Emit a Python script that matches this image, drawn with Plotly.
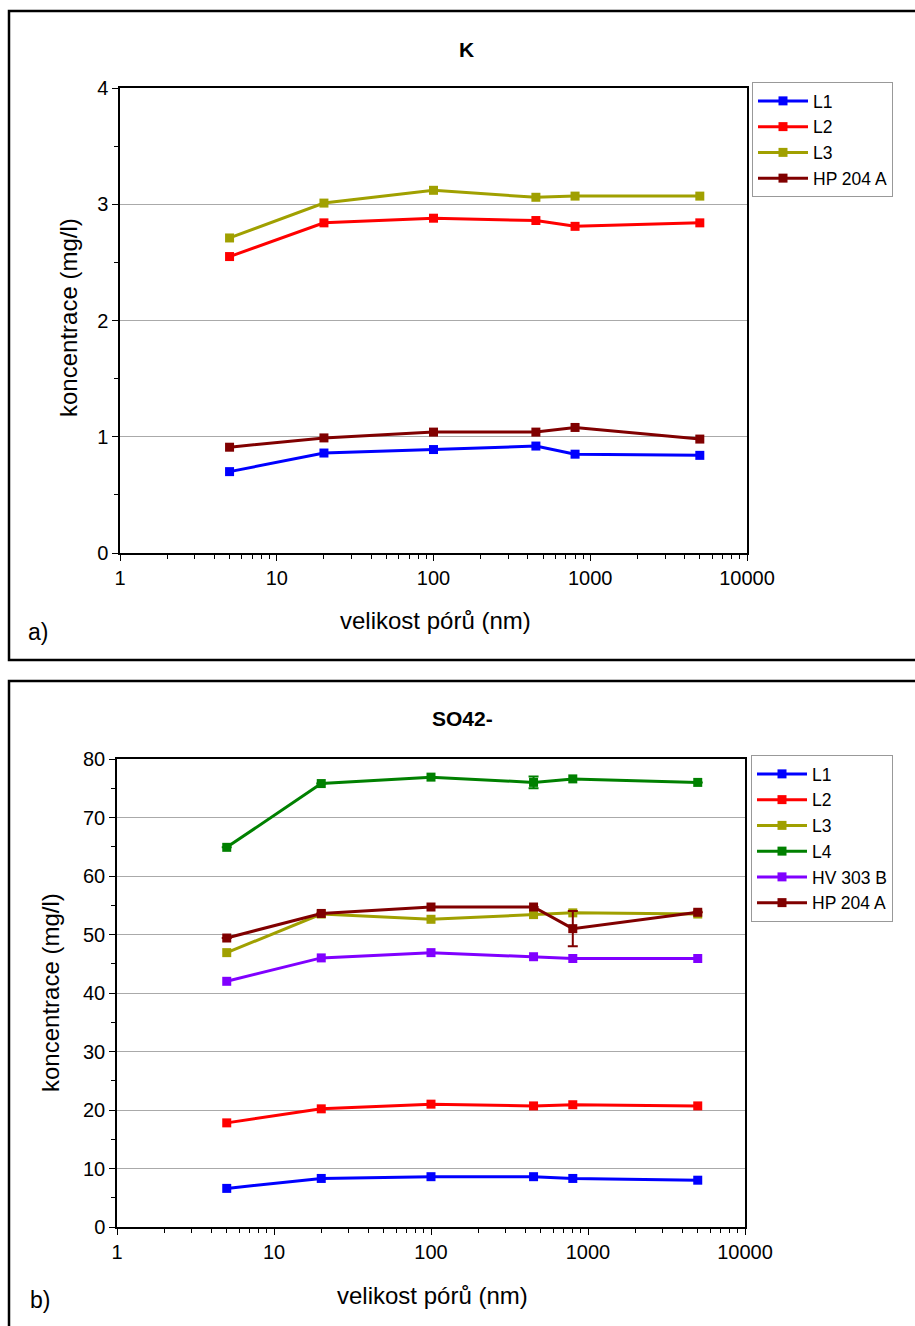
import plotly.graph_objects as go

W, H = 915, 1326

# ---------------- data ----------------
pore_size = [5, 20, 100, 450, 800, 5000]

k_names = ["L1", "L2", "L3", "HP 204 A"]
k_L1 = [0.70, 0.86, 0.89, 0.92, 0.85, 0.84]
k_L2 = [2.55, 2.84, 2.88, 2.86, 2.81, 2.84]
k_L3 = [2.71, 3.01, 3.12, 3.06, 3.07, 3.07]
k_HP204A = [0.91, 0.99, 1.04, 1.04, 1.08, 0.98]

so4_names = ["L1", "L2", "L3", "L4", "HV 303 B", "HP 204 A"]
so4_L1 = [6.6, 8.3, 8.6, 8.6, 8.3, 8.0]
so4_L2 = [17.8, 20.2, 21.0, 20.7, 20.9, 20.7]
so4_L3 = [46.9, 53.5, 52.6, 53.4, 53.7, 53.5]
so4_L4 = [64.9, 75.8, 76.9, 76.0, 76.6, 76.0]
so4_HV303B = [42.0, 46.0, 46.9, 46.2, 45.9, 45.9]
so4_HP204A = [49.4, 53.6, 54.7, 54.7, 51.0, 53.8]
so4_L4_err = [0, 0, 0, 1.0, 0, 0]
so4_HP204A_err = [0, 0, 0, 0, 3.0, 0]

x_tickvals = [1, 10, 100, 1000, 10000]
x_ticktext = ["1", "10", "100", "1000", "10000"]
x_minor = [m * d for d in [1, 10, 100, 1000] for m in range(2, 10)]

colors = {"L1": "#0000FF", "L2": "#FF0000", "L3": "#A0A000", "L4": "#008000",
          "HV 303 B": "#8000FF", "HP 204 A": "#800000"}

FONT = "Liberation Sans, Arial, sans-serif"

fig = go.Figure()


def add_series(name, y, xa, ya, legend, err=None):
    tr = go.Scatter(
        x=pore_size, y=y, name=name, mode="lines+markers",
        xaxis=xa, yaxis=ya, legend=legend,
        line=dict(color=colors[name], width=3),
        marker=dict(symbol="square", size=9, color=colors[name]),
    )
    if err is not None:
        tr.error_y = dict(type="data", array=err, visible=True, color=colors[name],
                          thickness=2, width=5)
    fig.add_trace(tr)


for n, y in zip(k_names, [k_L1, k_L2, k_L3, k_HP204A]):
    add_series(n, y, "x", "y", "legend")

so4_vals = [so4_L1, so4_L2, so4_L3, so4_L4, so4_HV303B, so4_HP204A]
so4_errs = [None, None, None, so4_L4_err, None, so4_HP204A_err]
for n, y, e in zip(so4_names, so4_vals, so4_errs):
    add_series(n, y, "x2", "y2", "legend2", e)


def px_x(p):
    return p / W


def px_y(p):
    return 1 - p / H


axis_common = dict(showline=True, linecolor="black", linewidth=1.5, mirror=True,
                   ticks="outside", tickcolor="black", ticklen=6,
                   tickfont=dict(family=FONT, size=20, color="black"),
                   zeroline=False, automargin=False)

xax = dict(type="log", range=[0, 4], tickvals=x_tickvals, ticktext=x_ticktext,
           showgrid=False,
           minor=dict(tickvals=x_minor, ticks="outside", ticklen=4, tickcolor="black",
                      showgrid=False),
           **axis_common)

legend_common = dict(xanchor="left", yanchor="top", xref="container", yref="container",
                     bordercolor="#999999", borderwidth=1, bgcolor="white",
                     font=dict(family=FONT, size=17.5, color="black"),
                     tracegroupgap=0, itemwidth=50)

fig.update_layout(
    width=W, height=H, margin=dict(l=0, r=0, t=0, b=0, pad=0, autoexpand=False),
    paper_bgcolor="white", plot_bgcolor="white",
    font=dict(family=FONT, color="black"),
    xaxis=dict(domain=[px_x(120), px_x(747)], anchor="y", **xax),
    yaxis=dict(domain=[px_y(553), px_y(88)], anchor="x", range=[0, 4], dtick=1,
               showgrid=True, gridcolor="#aaaaaa", gridwidth=1,
               minor=dict(dtick=0.5, ticks="outside", ticklen=4, tickcolor="black",
                          showgrid=False),
               **axis_common),
    xaxis2=dict(domain=[px_x(117), px_x(745)], anchor="y2", **xax),
    yaxis2=dict(domain=[px_y(1227), px_y(759)], anchor="x2", range=[0, 80], dtick=10,
                showgrid=True, gridcolor="#aaaaaa", gridwidth=1,
                minor=dict(dtick=5, ticks="outside", ticklen=4, tickcolor="black",
                           showgrid=False),
                **axis_common),
    legend=dict(x=px_x(752), y=px_y(82), **legend_common),
    legend2=dict(x=px_x(751), y=px_y(755), **legend_common),
    showlegend=True,
)

# frames
fig.add_shape(type="rect", xref="paper", yref="paper",
              x0=px_x(9), x1=px_x(925), y0=px_y(660), y1=px_y(11),
              line=dict(color="black", width=2.5))
fig.add_shape(type="rect", xref="paper", yref="paper",
              x0=px_x(9), x1=px_x(925), y0=px_y(1340), y1=px_y(681),
              line=dict(color="black", width=2.5))


def ann(text, x, y, size, bold=False, angle=0):
    fig.add_annotation(text=f"<b>{text}</b>" if bold else text,
                       xref="paper", yref="paper", x=px_x(x), y=px_y(y),
                       xanchor="center", yanchor="middle", showarrow=False,
                       textangle=angle,
                       font=dict(family=FONT, size=size, color="black"))


ann("K", 467, 50, 21, bold=True)
ann("SO42-", 463, 718, 21, bold=True)
ann("koncentrace (mg/l)", 68, 318, 24, angle=-90)
ann("koncentrace (mg/l)", 50, 993, 24, angle=-90)
ann("velikost pórů (nm)", 435, 620, 24)
ann("velikost pórů (nm)", 432, 1295, 24)
ann("a)", 38, 632, 23)
ann("b)", 40, 1300, 23)

fig.write_html("out.html", config={"displayModeBar": False},
               post_script="document.body.style.margin='0';"
                           "document.body.style.overflow='hidden';")
